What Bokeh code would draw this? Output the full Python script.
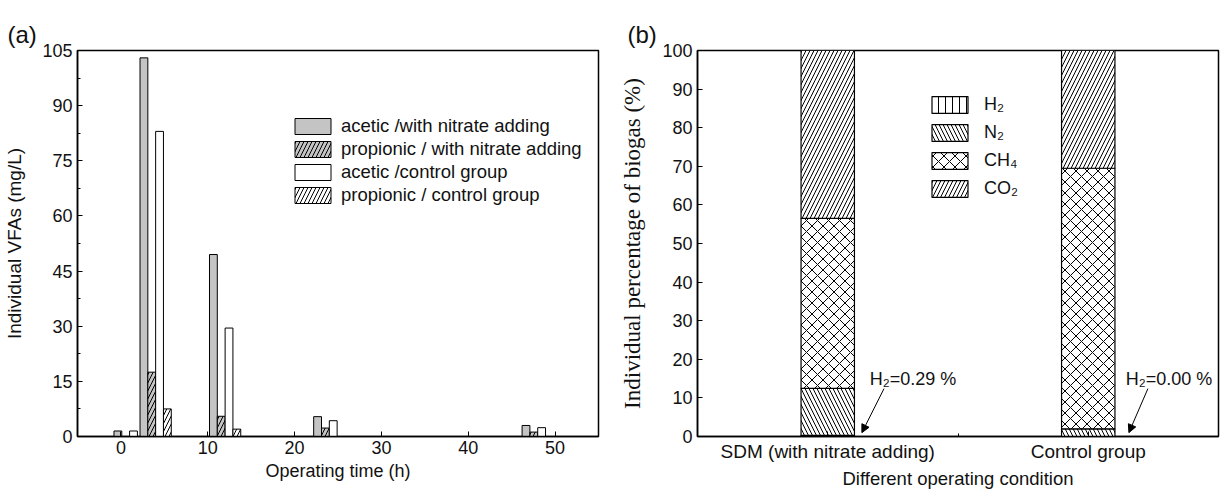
from bokeh.plotting import figure
from bokeh.models import (ColumnDataSource, Legend, LegendItem, Label, Arrow,
                          NormalHead, SingleIntervalTicker, FixedTicker)
from bokeh.layouts import row
from bokeh.embed import file_html
from bokeh.resources import INLINE

# ---------------- data: panel (a) ----------------
times = [1, 4, 12, 24, 48]
acetic_nitrate = [1.5, 103.0, 49.5, 5.4, 3.0]
propionic_nitrate = [0.0, 17.5, 5.5, 2.3, 1.2]
acetic_control = [1.5, 83.0, 29.5, 4.3, 2.4]
propionic_control = [0.0, 7.5, 2.0, 0.0, 0.0]
series_a = ["acetic /with nitrate adding", "propionic / with nitrate adding",
            "acetic /control group", "propionic / control group"]
x_ticks_a = [0, 10, 20, 30, 40, 50]

# ---------------- data: panel (b) ----------------
conditions = ["SDM (with nitrate adding)", "Control group"]
gases = ["H₂", "N₂", "CH₄", "CO₂"]
h2 = [0.29, 0.0]
n2 = [12.2, 2.0]
ch4 = [44.0, 67.5]
co2 = [43.51, 30.5]
h2_notes = ["H₂=0.29 %", "H₂=0.00 %"]

SANS = "Liberation Sans"
SERIF = "Liberation Serif"
GRAY = "#c4c4c4"
TXT = "#111111"


def style_axes(p):
    p.xgrid.visible = False
    p.ygrid.visible = False
    p.outline_line_color = "black"
    p.outline_line_width = 1.5
    for ax in (p.xaxis[0], p.yaxis[0]):
        ax.axis_line_color = "black"
        ax.axis_line_width = 1.5
        ax.major_tick_in = 5
        ax.major_tick_out = 0
        ax.minor_tick_in = 3
        ax.minor_tick_out = 0
        ax.major_tick_line_color = "black"
        ax.minor_tick_line_color = "black"
        ax.major_label_text_font = SANS
        ax.major_label_text_font_size = "18px"
        ax.major_label_text_color = TXT
        ax.axis_label_text_font = SANS
        ax.axis_label_text_font_style = "normal"
        ax.axis_label_text_color = TXT
        ax.major_label_standoff = 5
    p.xaxis.major_label_standoff = 4
    p.title.text_font = SANS
    p.title.text_font_size = "24px"
    p.title.text_font_style = "normal"
    p.title.text_color = TXT
    p.title.align = "left"
    p.title.standoff = 6


# ================= panel (a) =================
p1 = figure(width=608, height=492, x_range=(-5, 55), y_range=(0, 105),
            output_backend="svg", toolbar_location=None, title="(a)",
            min_border_left=77, min_border_right=10,
            min_border_top=49, min_border_bottom=55)
style_axes(p1)
p1.title.offset = -70
p1.xaxis.ticker = FixedTicker(ticks=x_ticks_a)
p1.yaxis.ticker = SingleIntervalTicker(interval=15, num_minor_ticks=2)
p1.xaxis.axis_label = "Operating time (h)"
p1.xaxis.axis_label_text_font_size = "18px"
p1.xaxis.axis_label_standoff = 4
p1.yaxis.axis_label = "Individual VFAs (mg/L)"
p1.yaxis.axis_label_text_font_size = "19px"
p1.yaxis.axis_label_standoff = 14

bar_w = 0.9
values_a = [acetic_nitrate, propionic_nitrate, acetic_control, propionic_control]
fills = [GRAY, GRAY, "white", "white"]
hatches = [" ", "/", " ", "/"]
items = []
for i, (vals, name) in enumerate(zip(values_a, series_a)):
    off = (i - 1.5) * bar_w
    src = ColumnDataSource(dict(x=[t + off for t in times], top=vals))
    r = p1.vbar(x="x", top="top", bottom=0, width=bar_w, source=src,
                fill_color=fills[i], line_color="black", line_width=1,
                hatch_pattern=hatches[i], hatch_color="black",
                hatch_scale=8, hatch_weight=1)
    items.append(LegendItem(label=name, renderers=[r]))

leg1 = Legend(items=items, location=(213, 230), padding=0, margin=0,
              spacing=1, glyph_width=45, glyph_height=20, label_height=20,
              label_standoff=6, label_text_font=SANS,
              label_text_font_size="18.5px", label_text_color=TXT,
              border_line_color=None, background_fill_alpha=0)
p1.add_layout(leg1)

# ================= panel (b) =================
p2 = figure(width=621, height=492, x_range=(0.5, 2.5), y_range=(0, 100),
            output_backend="svg", toolbar_location=None, title="(b)",
            min_border_left=89, min_border_right=11,
            min_border_top=50, min_border_bottom=56)
style_axes(p2)
p2.title.offset = -70
p2.xaxis.ticker = FixedTicker(ticks=[1, 2], minor_ticks=[1.5])
p2.xaxis.major_label_overrides = {1: conditions[0], 2: conditions[1]}
p2.xaxis.major_label_text_font_size = "19px"
p2.yaxis.ticker = SingleIntervalTicker(interval=10, num_minor_ticks=0)
p2.xaxis.axis_label = "Different operating condition"
p2.xaxis.axis_label_text_font_size = "18.5px"
p2.xaxis.axis_label_standoff = 3
p2.yaxis.axis_label = "Individual percentage of biogas (%)"
p2.yaxis.axis_label_text_font = SERIF
p2.yaxis.axis_label_text_font_size = "23px"
p2.yaxis.axis_label_standoff = 14

src2 = ColumnDataSource(dict(x=[1, 2], h2=h2, n2=n2, ch4=ch4, co2=co2))
rs = p2.vbar_stack(["h2", "n2", "ch4", "co2"], x="x", width=0.205,
                   source=src2, fill_color="white", line_color="black",
                   line_width=1.2, hatch_color="black", hatch_weight=1,
                   hatch_pattern=["|", "\\", "x", "/"],
                   hatch_scale=[7, 8, 11, 8])
items2 = [LegendItem(label=g, renderers=[r]) for g, r in zip(gases, rs)]
leg2 = Legend(items=items2, location=(230, 237), padding=0, margin=0,
              spacing=7, glyph_width=45, glyph_height=21, label_height=21,
              label_standoff=12, label_text_font=SANS,
              label_text_font_size="18px", label_text_color=TXT,
              border_line_color=None, background_fill_alpha=0)
p2.add_layout(leg2)

note_x = [1.161, 2.144]
arrow_start = [(1.216, 12.4), (2.229, 12.4)]
arrow_end = [(1.131, 1.0), (2.156, 1.0)]
for nx, txt, (sx, sy), (ex, ey) in zip(note_x, h2_notes, arrow_start, arrow_end):
    p2.add_layout(Label(x=nx, y=15.0, text=txt, text_font=SANS,
                        text_font_size="18px", text_baseline="middle",
                        text_color=TXT))
    p2.add_layout(Arrow(x_start=sx, y_start=sy, x_end=ex, y_end=ey,
                        line_color="black", line_width=1,
                        end=NormalHead(size=8, fill_color="black",
                                       line_color="black")))

layout = row(p1, p2, spacing=0)
open("out.html", "w").write(file_html(layout, INLINE))
